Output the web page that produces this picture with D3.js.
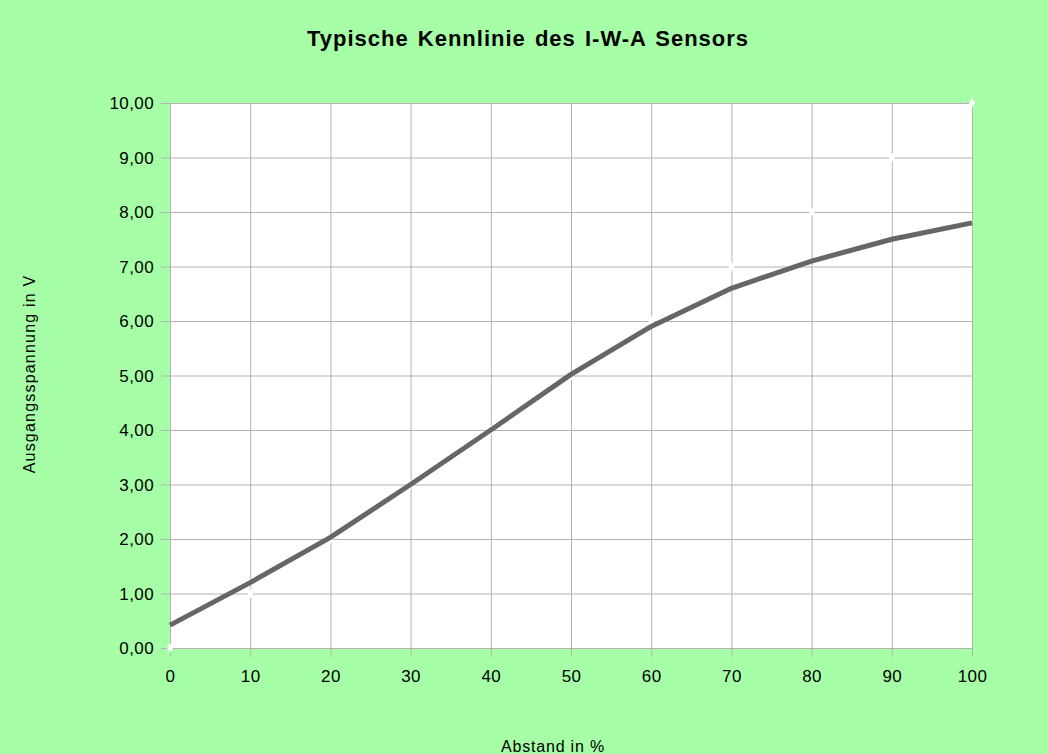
<!DOCTYPE html>
<html>
<head>
<meta charset="utf-8">
<script src="https://cdn.jsdelivr.net/npm/d3@7"></script>
<style>
  body { margin: 0; background: #a6ffa6; }
  svg { display: block; font-family: "Liberation Sans", Arial, sans-serif; }
</style>
</head>
<body>
<div id="chart"></div>
<script>
// chart data
var abstand = [0, 10, 20, 30, 40, 50, 60, 70, 80, 90, 100];
var spannung = [0.42, 1.2, 2.03, 3.0, 4.0, 5.02, 5.9, 6.6, 7.1, 7.5, 7.8];
var ideal = [0, 1, 2, 3, 4, 5, 6, 7, 8, 9, 10];
var yTicks = [0, 1, 2, 3, 4, 5, 6, 7, 8, 9, 10];
var xTicks = [0, 10, 20, 30, 40, 50, 60, 70, 80, 90, 100];

var svgWidth = 1048;
var svgHeight = 754;

var margin = { top: 103, right: 76, bottom: 106, left: 170 };
var width = svgWidth - margin.left - margin.right;
var height = svgHeight - margin.top - margin.bottom;

var svg = d3.select("#chart")
  .append("svg")
  .attr("width", svgWidth)
  .attr("height", svgHeight);

svg.append("rect")
  .attr("width", svgWidth)
  .attr("height", svgHeight)
  .attr("fill", "#a6ffa6");

var chartGroup = svg.append("g")
  .attr("transform", `translate(${margin.left}, ${margin.top})`);

var xScale = d3.scaleLinear().domain([0, 100]).range([0, width]);
var yScale = d3.scaleLinear().domain([0, 10]).range([height, 0]);

// plot area
chartGroup.append("rect")
  .attr("width", width)
  .attr("height", height)
  .attr("fill", "white");

// grid lines
chartGroup.append("g")
  .selectAll("line")
  .data(yTicks)
  .enter()
  .append("line")
  .attr("x1", 0)
  .attr("x2", width)
  .attr("y1", d => yScale(d) + 0.5)
  .attr("y2", d => yScale(d) + 0.5)
  .attr("stroke", "#b3b3b3");

chartGroup.append("g")
  .selectAll("line")
  .data(xTicks)
  .enter()
  .append("line")
  .attr("y1", 0)
  .attr("y2", height)
  .attr("x1", d => xScale(d) + 0.5)
  .attr("x2", d => xScale(d) + 0.5)
  .attr("stroke", "#b3b3b3");

// axes
var bottomAxis = d3.axisBottom(xScale).tickValues(xTicks).tickSize(9).tickPadding(13);
var leftAxis = d3.axisLeft(yScale).tickValues(yTicks).tickSize(9).tickPadding(7)
  .tickFormat(d => d3.format(".2f")(d).replace(".", ","));

var xAxis = chartGroup.append("g")
  .attr("transform", `translate(0, ${height})`)
  .call(bottomAxis);

var yAxis = chartGroup.append("g")
  .call(leftAxis);

[xAxis, yAxis].forEach(function(ax) {
  ax.select(".domain").remove();
  ax.selectAll(".tick line").attr("stroke", "#b3b3b3");
  ax.selectAll(".tick text")
    .attr("fill", "black")
    .style("font-size", "17px")
    .style("letter-spacing", "0.4px")
    .style("font-family", "Liberation Sans, Arial, sans-serif");
});
yAxis.selectAll(".tick text").attr("dy", "0.35em");

// white reference series (hidden against white)
var line = d3.line()
  .x((d, i) => xScale(abstand[i]))
  .y(d => yScale(d));

chartGroup.append("path")
  .datum(ideal)
  .attr("fill", "none")
  .attr("stroke", "white")
  .attr("stroke-width", 1)
  .attr("d", line);

chartGroup.selectAll(".marker")
  .data(ideal)
  .enter()
  .append("path")
  .attr("class", "marker")
  .attr("d", d3.symbol().type(d3.symbolDiamond).size(30))
  .attr("transform", (d, i) => `translate(${xScale(abstand[i])}, ${yScale(d)})`)
  .attr("fill", "white");

// measured curve
chartGroup.append("path")
  .datum(spannung)
  .attr("fill", "none")
  .attr("stroke", "#666666")
  .attr("stroke-width", 5)
  .attr("stroke-linejoin", "round")
  .attr("d", line);

// title and labels
svg.append("text")
  .attr("x", 528)
  .attr("y", 46)
  .attr("text-anchor", "middle")
  .style("font-size", "22px")
  .style("font-weight", "bold")
  .style("letter-spacing", "1px")
  .style("word-spacing", "2px")
  .text("Typische Kennlinie des I-W-A Sensors");

svg.append("text")
  .attr("x", 553)
  .attr("y", 752)
  .attr("text-anchor", "middle")
  .style("font-size", "16px")
  .style("letter-spacing", "0.8px")
  .text("Abstand in %");

svg.append("text")
  .attr("transform", "translate(35, 374) rotate(-90)")
  .attr("text-anchor", "middle")
  .style("font-size", "16px")
  .style("letter-spacing", "1.2px")
  .text("Ausgangsspannung in V");
</script>
</body>
</html>
